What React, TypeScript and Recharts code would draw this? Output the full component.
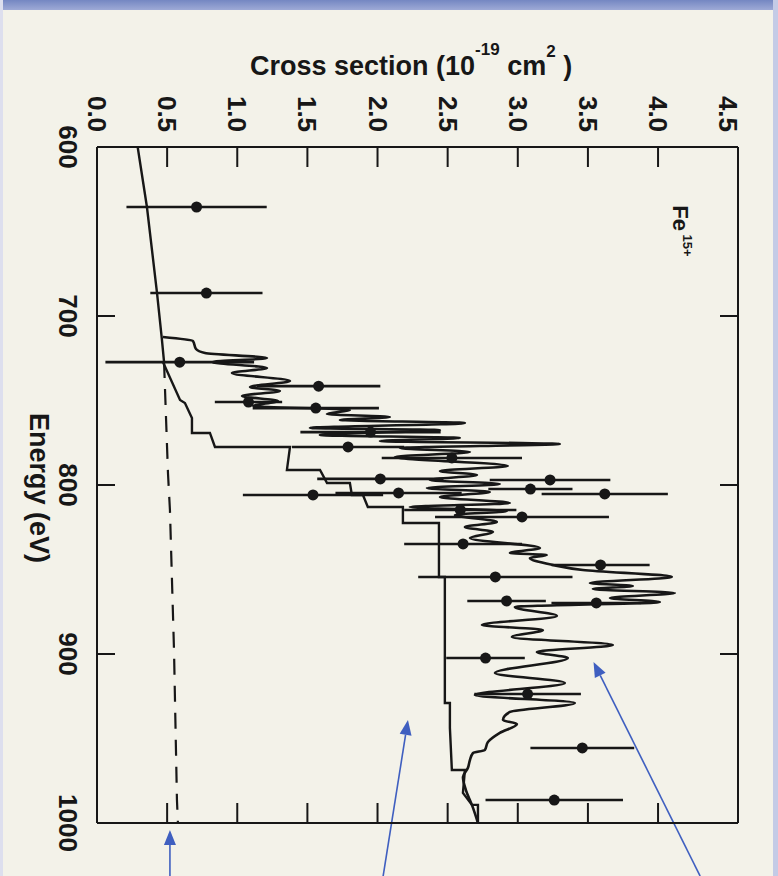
import { ScatterChart, Scatter, XAxis, YAxis, ErrorBar, ReferenceLine } from 'recharts'

const INK = '#171717'
const ARROW = '#3f5fc0'
const FONT = '"Liberation Sans", Arial, sans-serif'

// axis ticks
const crossTicks = [0, 0.5, 1, 1.5, 2, 2.5, 3, 3.5, 4, 4.5]
const crossInnerTicks = [0.5, 1, 1.5, 2, 2.5, 3, 3.5, 4]
const energyTicks = [600, 700, 800, 900, 1000]
const energyInnerTicks = [700, 800, 900]

// measured points: energy (eV), cross section (1e-19 cm^2), half width of the bar
const pointEnergy = [635.5, 686.4, 727.3, 741.5, 750.9, 754.5, 768.7, 777.5, 784.0, 796.4, 797.0, 802.4, 804.7, 805.3, 805.9, 814.8, 818.9, 834.9, 847.3, 854.4, 868.6, 869.8, 902.4, 923.7, 955.6, 986.4]
const pointCross = [0.71, 0.78, 0.59, 1.58, 1.08, 1.56, 1.95, 1.79, 2.53, 2.02, 3.23, 3.09, 2.15, 3.62, 1.54, 2.59, 3.03, 2.61, 3.59, 2.84, 2.92, 3.56, 2.77, 3.07, 3.46, 3.26]
const pointErr = [0.5, 0.4, 0.53, 0.44, 0.24, 0.45, 0.5, 0.4, 0.5, 0.45, 0.43, 0.3, 0.45, 0.45, 0.5, 0.4, 0.62, 0.42, 0.35, 0.55, 0.28, 0.32, 0.28, 0.38, 0.37, 0.49]

// direct ionization (solid part, then dashed continuation)
const directEnergy = [600, 635.5, 686.4, 714.2, 727.2]
const directCross = [0.29, 0.356, 0.428, 0.463, 0.478]
const dashedEnergy = [727.2, 792.9, 814.8, 897.6, 986.4, 1000]
const dashedCross = [0.478, 0.506, 0.52, 0.549, 0.57, 0.577]

// staircase curve
const stepEnergy = [727.2, 749.7, 751.5, 760.3, 769.2, 769.2, 777.5, 777.5, 791.1, 791.1, 798.8, 798.8, 805.9, 805.9, 813.0, 813.0, 822.5, 822.5, 854.4, 854.4, 929.0, 929.0, 943.7, 968.6, 968.6, 982.2, 989.3, 989.3, 1000]
const stepCross = [0.47, 0.592, 0.627, 0.677, 0.677, 0.805, 0.841, 1.376, 1.354, 1.59, 1.64, 1.803, 1.817, 1.896, 1.931, 2.181, 2.181, 2.438, 2.438, 2.48, 2.48, 2.516, 2.516, 2.53, 2.623, 2.609, 2.673, 2.716, 2.716]

// resonant curve
const theoryEnergy = [712.4, 714.8, 719.5, 721.9, 724.9, 727.2, 730.8, 733.7, 738.5, 742.0, 744.4, 747.3, 750.3, 753.3, 755.6, 758.0, 759.8, 761.5, 763.3, 766.3, 767.5, 770.4, 772.2, 774.0, 775.7, 778.1, 780.5, 783.4, 788.8, 791.7, 794.1, 797.0, 799.4, 801.8, 804.1, 807.1, 810.7, 813.0, 815.4, 817.8, 821.9, 824.9, 827.8, 831.4, 837.3, 840.2, 841.4, 843.2, 847.3, 850.3, 854.4, 858.0, 859.8, 861.5, 863.9, 866.9, 869.2, 872.2, 877.5, 882.8, 885.8, 889.9, 894.7, 898.8, 902.4, 911.2, 917.2, 924.3, 929.0, 934.3, 939.0, 941.4, 946.7, 952.1, 956.8, 958.6, 962.7, 967.5, 972.8, 980.5, 989.3, 1000]
const theoryCross = [0.47, 0.684, 0.706, 0.77, 1.212, 0.82, 1.212, 0.962, 1.376, 1.091, 1.304, 1.034, 1.29, 1.112, 1.803, 1.639, 2.088, 1.732, 2.623, 1.518, 2.445, 1.589, 2.587, 2.017, 3.3, 2.16, 2.659, 2.124, 2.929, 2.445, 2.709, 2.373, 2.872, 2.352, 2.801, 2.445, 2.944, 2.231, 2.922, 2.552, 2.851, 2.623, 2.823, 2.659, 3.158, 2.944, 3.207, 3.086, 3.25, 3.464, 4.098, 3.514, 3.82, 3.535, 4.12, 3.657, 4.013, 2.979, 3.279, 2.744, 3.179, 2.958, 3.678, 3.136, 3.357, 2.837, 3.336, 2.694, 3.407, 2.944, 2.894, 2.994, 2.872, 2.787, 2.765, 2.68, 2.659, 2.644, 2.609, 2.63, 2.673, 2.716]

// blue annotation arrows, tail and tip in data units
const arrowTailCross = [0.52, 2.04, 4.3]
const arrowTailEnergy = [1031.4, 1031.4, 1031.4]
const arrowTipCross = [0.52, 2.217, 3.54]
const arrowTipEnergy = [1004.1, 939.0, 904.7]

const zip = (es: number[], cs: number[]) => es.map((e, i) => ({ e, cs: cs[i] }))

const points = pointEnergy.map((e, i) => ({ e, cs: pointCross[i], err: pointErr[i] }))
const direct = zip(directEnergy, directCross)
const dashed = zip(dashedEnergy, dashedCross)
const steps = zip(stepEnergy, stepCross)
const theory = zip(theoryEnergy, theoryCross)

const xDomain: [number, number] = [0, 4.57]
const yDomain: [number, number] = [600, 1000]

const TICK_IN = 20

// label for the top axis, plus the inward tick mark under it
function CrossTick(props: any) {
  const { x, y, payload } = props
  const v = Number(payload.value)
  const edge = y + 33 // tickSize + tickMargin
  return (
    <g>
      {crossInnerTicks.includes(v) && <line x1={x} x2={x} y1={edge} y2={edge + TICK_IN} stroke={INK} strokeWidth={2} />}
      <text x={x} y={y} transform={`rotate(90 ${x} ${y})`} textAnchor="middle" dominantBaseline="central"
        fontFamily={FONT} fontWeight={700} fontSize={26} fill={INK}>
        {v.toFixed(1)}
      </text>
    </g>
  )
}

function EnergyTick(props: any) {
  const { x, y, payload } = props
  const v = Number(payload.value)
  const edge = x + 29
  return (
    <g>
      {energyInnerTicks.includes(v) && <line x1={edge} x2={edge + 18} y1={y} y2={y} stroke={INK} strokeWidth={2} />}
      <text x={x} y={y} transform={`rotate(90 ${x} ${y})`} textAnchor="middle" dominantBaseline="central"
        fontFamily={FONT} fontWeight={700} fontSize={26} fill={INK}>
        {v}
      </text>
    </g>
  )
}

// bottom axis: inward tick only
function BottomTick(props: any) {
  const { x, y, payload } = props
  if (!crossInnerTicks.includes(Number(payload.value))) return <g />
  return <line x1={x} x2={x} y1={y} y2={y - TICK_IN} stroke={INK} strokeWidth={2} />
}

function Arrow(props: any) {
  const { x1, y1, x2, y2 } = props
  const a = Math.atan2(y2 - y1, x2 - x1)
  const c = Math.cos(a)
  const s = Math.sin(a)
  const bx = x2 - 15 * c
  const by = y2 - 15 * s
  return (
    <g>
      <line x1={x1} y1={y1} x2={bx} y2={by} stroke={ARROW} strokeWidth={1.6} />
      <polygon points={`${x2},${y2} ${bx + 6 * s},${by - 6 * c} ${bx - 6 * s},${by + 6 * c}`} fill={ARROW} />
    </g>
  )
}

const noDot = () => <g />
const dot = (p: any) => <circle cx={p.cx} cy={p.cy} r={5.5} fill={INK} />
const inner = { stroke: INK, strokeWidth: 2 }
const sup = (size: number, lift: number) => ({ fontSize: size, verticalAlign: 'baseline', position: 'relative' as const, top: -lift })

export default function App() {
  return (
    <div style={{ position: 'absolute', left: 0, top: 0, width: 778, height: 876, background: '#f3f2e9', overflow: 'hidden' }}>
      <div style={{ position: 'absolute', left: 0, top: 0, width: 778, height: 10, background: 'linear-gradient(#7487c2, #9eaad6)' }} />
      <div style={{ position: 'absolute', right: 0, top: 0, width: 5, height: 876, background: '#c4cbe6' }} />
      <div style={{ position: 'absolute', left: 0, top: 0, width: 3, height: 876, background: '#dddfee' }} />

      <div style={{ position: 'absolute', left: 250, top: 53, fontFamily: FONT, fontWeight: 700, fontSize: 27, lineHeight: '27px', color: INK, whiteSpace: 'nowrap' }}>
        Cross section (10<sup style={sup(17, 20)}>-19</sup> cm<sup style={sup(17, 18)}>2</sup> )
      </div>
      <div style={{ position: 'absolute', left: 38, top: 488, transform: 'translate(-50%, -50%) rotate(90deg)', fontFamily: FONT, fontWeight: 700, fontSize: 27, lineHeight: '27px', color: INK, whiteSpace: 'nowrap' }}>
        Energy (eV)
      </div>
      <div style={{ position: 'absolute', left: 678, top: 231, transform: 'translate(-50%, -50%) rotate(90deg)', fontFamily: FONT, fontWeight: 700, fontSize: 22, lineHeight: '22px', color: INK, whiteSpace: 'nowrap' }}>
        Fe<sup style={sup(13, 10)}> 15+</sup>
      </div>

      <ScatterChart width={778} height={876} margin={{ top: 87, right: 40, bottom: 51, left: 37 }} style={{ position: 'absolute', left: 0, top: 0 }}>
        <XAxis xAxisId="cs" dataKey="cs" type="number" orientation="top" domain={xDomain} allowDataOverflow
          ticks={crossTicks} interval={0} height={60} tickSize={6} tickMargin={27} tickLine={false}
          axisLine={inner} tick={<CrossTick />} />
        <XAxis xAxisId="csBottom" dataKey="cs" type="number" orientation="bottom" domain={xDomain} allowDataOverflow
          ticks={crossInnerTicks} interval={0} height={2} tickSize={0} tickMargin={0} tickLine={false}
          axisLine={inner} tick={<BottomTick />} />
        <YAxis yAxisId="en" dataKey="e" type="number" orientation="left" domain={yDomain} reversed allowDataOverflow
          ticks={energyTicks} interval={0} width={60} tickSize={6} tickMargin={23} tickLine={false}
          axisLine={inner} tick={<EnergyTick />} />
        <YAxis yAxisId="enRight" dataKey="e" type="number" orientation="right" mirror domain={yDomain} reversed allowDataOverflow
          ticks={energyInnerTicks} interval={0} tickSize={18} tickLine={inner} axisLine={inner} tickFormatter={() => ''} />

        <Scatter xAxisId="cs" yAxisId="en" data={direct} line={{ stroke: INK, strokeWidth: 2.4 }} shape={noDot} isAnimationActive={false} />
        <Scatter xAxisId="csBottom" yAxisId="enRight" data={dashed} line={{ stroke: INK, strokeWidth: 2.2, strokeDasharray: '16 11' }} shape={noDot} isAnimationActive={false} />
        <Scatter xAxisId="cs" yAxisId="en" data={steps} line={{ stroke: INK, strokeWidth: 2.4 }} shape={noDot} isAnimationActive={false} />
        <Scatter xAxisId="cs" yAxisId="en" data={theory} line={{ stroke: INK, strokeWidth: 2.6 }} lineJointType="monotoneY" shape={noDot} isAnimationActive={false} />
        <Scatter xAxisId="cs" yAxisId="en" data={points} shape={dot} isAnimationActive={false}>
          <ErrorBar dataKey="err" direction="x" width={0} stroke={INK} strokeWidth={2.6} />
        </Scatter>

        {arrowTipCross.map((_, i) => (
          <ReferenceLine key={i} xAxisId="cs" yAxisId="en" ifOverflow="visible" stroke={ARROW}
            segment={[{ x: arrowTailCross[i], y: arrowTailEnergy[i] }, { x: arrowTipCross[i], y: arrowTipEnergy[i] }]}
            shape={Arrow} />
        ))}
      </ScatterChart>
    </div>
  )
}
